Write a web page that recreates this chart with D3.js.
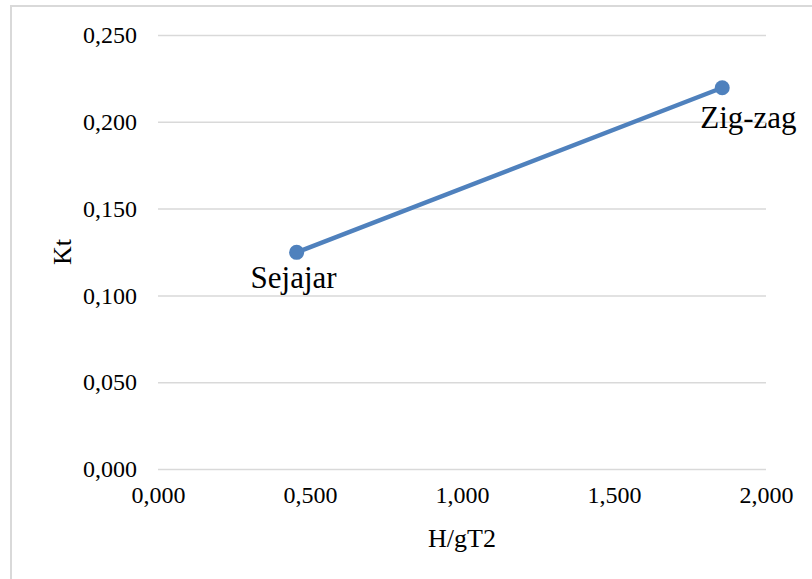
<!DOCTYPE html>
<html>
<head>
<meta charset="utf-8">
<script src="https://cdn.jsdelivr.net/npm/d3@7"></script>
<style>
  html, body { margin: 0; padding: 0; background: #ffffff; }
  svg { display: block; }
  svg text { font-family: "Liberation Serif", "Times New Roman", Tinos, "DejaVu Serif", "Noto Serif", serif !important; fill: #000; }
</style>
</head>
<body>
<svg id="chart" width="812" height="579"></svg>
<script>
// ---- data ----
const categories = ["Sejajar", "Zig-zag"];
const xValues = [0.456, 1.856];
const yValues = [0.1248, 0.2196];
const xTicks = [0, 0.5, 1.0, 1.5, 2.0];
const yTicks = [0, 0.05, 0.10, 0.15, 0.20, 0.25];
const xTitle = "H/gT2";
const yTitle = "Kt";

// ---- layout ----
const W = 812, H = 579;
const plot = { left: 158, right: 766, top: 35, bottom: 469 };
const svg = d3.select("#chart");

// outer chart border
svg.append("rect")
  .attr("x", 11).attr("y", 6)
  .attr("width", W + 20).attr("height", H + 20)
  .attr("fill", "none").attr("stroke", "#d9d9d9").attr("stroke-width", 2);

const x = d3.scaleLinear().domain([0, 2]).range([plot.left, plot.right]);
const y = d3.scaleLinear().domain([0, 0.25]).range([plot.bottom, plot.top]);

const fmt = v => d3.format(".3f")(v).replace(".", ",");

// gridlines (horizontal)
const yAxis = d3.axisLeft(y).tickValues(yTicks).tickSize(-(plot.right - plot.left)).tickFormat(fmt).tickPadding(21);
const gy = svg.append("g").attr("transform", `translate(${plot.left},0)`).call(yAxis);
gy.attr("font-family", null);
gy.select(".domain").remove();
gy.selectAll(".tick line").attr("stroke", "#d9d9d9").attr("stroke-width", 1.5);
gy.selectAll(".tick text").attr("font-size", 24).attr("fill", "#000").attr("dy", "0.32em");

// x axis labels (no axis line)
const xAxis = d3.axisBottom(x).tickValues(xTicks).tickSize(0).tickFormat(fmt).tickPadding(17);
const gx = svg.append("g").attr("transform", `translate(0,${plot.bottom})`).call(xAxis);
gx.attr("font-family", null);
gx.select(".domain").remove();
gx.selectAll(".tick text").attr("font-size", 24).attr("fill", "#000");

// axis titles
svg.append("text")
  .attr("x", (plot.left + plot.right) / 2).attr("y", 547)
  .attr("text-anchor", "middle").attr("font-size", 26).text(xTitle);
svg.append("text")
  .attr("transform", `translate(71,${(plot.top + plot.bottom) / 2}) rotate(-90)`)
  .attr("text-anchor", "middle").attr("font-size", 26).text(yTitle);

// series
const pts = categories.map((c, i) => ({ name: c, x: xValues[i], y: yValues[i] }));
const line = d3.line().x(d => x(d.x)).y(d => y(d.y));
svg.append("path").datum(pts)
  .attr("d", line).attr("fill", "none")
  .attr("stroke", "#4f81bd").attr("stroke-width", 4.5).attr("stroke-linecap", "round");
svg.selectAll("circle.pt").data(pts).enter().append("circle")
  .attr("class", "pt")
  .attr("cx", d => x(d.x)).attr("cy", d => y(d.y)).attr("r", 7.5)
  .attr("fill", "#4f81bd");

// data labels
const labelOffsets = [{ dx: -3, dy: 36, anchor: "middle" }, { dx: -22, dy: 40, anchor: "start" }];
svg.selectAll("text.lbl").data(pts).enter().append("text")
  .attr("class", "lbl")
  .attr("x", (d, i) => x(d.x) + labelOffsets[i].dx)
  .attr("y", (d, i) => y(d.y) + labelOffsets[i].dy)
  .attr("text-anchor", (d, i) => labelOffsets[i].anchor)
  .attr("font-size", 31)
  .text(d => d.name);
</script>
</body>
</html>
